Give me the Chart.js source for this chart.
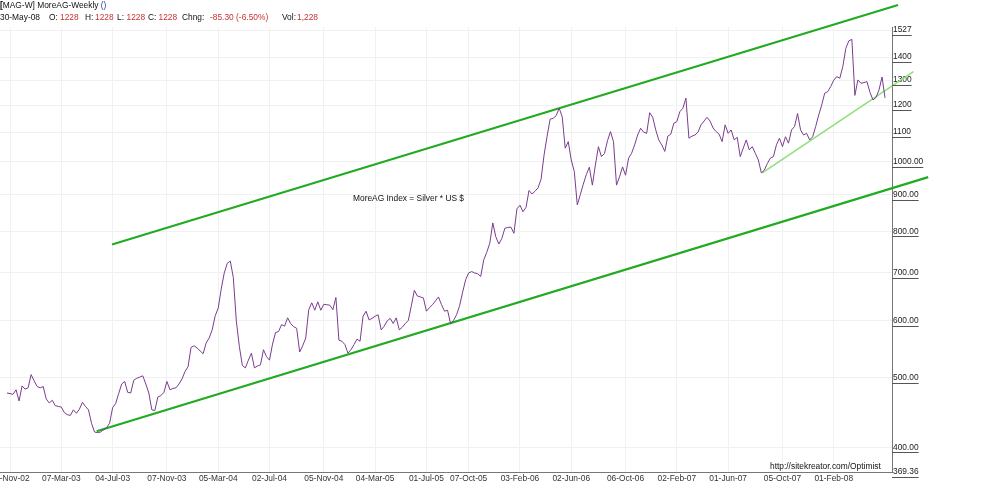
<!DOCTYPE html>
<html>
<head>
<meta charset="utf-8">
<script src="https://cdn.jsdelivr.net/npm/chart.js@4.4.1/dist/chart.umd.min.js"></script>
<style>
  body { margin: 0; background: #fff; }
  #wrap { position: relative; width: 987px; height: 486px; font-family: 'Liberation Sans', Arial, sans-serif; font-size: 8.4px; color: #111; }
  #chart { position: absolute; left: 0; top: 0; }
  .txt { position: absolute; white-space: pre; line-height: 10px; }
  .red { color: #c8312f; }
  .blue { color: #2a3aa8; }
</style>
</head>
<body>
<div id="wrap">
  <canvas id="chart" width="987" height="486"></canvas>
  <div class="txt" style="left:0;top:0"><b>[</b>MAG-W] MoreAG-Weekly <span class="blue">()</span></div>
  <div class="txt" style="left:0;top:11.5px">30-May-08</div>
  <div class="txt" style="left:49px;top:11.5px">O:</div>
  <div class="txt red" style="left:60px;top:11.5px">1228</div>
  <div class="txt" style="left:85px;top:11.5px">H:</div>
  <div class="txt red" style="left:95px;top:11.5px">1228</div>
  <div class="txt" style="left:117px;top:11.5px">L:</div>
  <div class="txt red" style="left:126.5px;top:11.5px">1228</div>
  <div class="txt" style="left:148px;top:11.5px">C:</div>
  <div class="txt red" style="left:158.5px;top:11.5px">1228</div>
  <div class="txt" style="left:182px;top:11.5px">Chng:</div>
  <div class="txt red" style="left:210px;top:11.5px">-85.30 (-6.50%)</div>
  <div class="txt" style="left:282px;top:11.5px">Vol:</div>
  <div class="txt red" style="left:297px;top:11.5px">1,228</div>
  <div class="txt" style="left:353px;top:192.5px">MoreAG Index = Silver * US $</div>
  <div class="txt" style="left:770px;top:460.5px">http://sitekreator.com/Optimist</div>
</div>
<script>
// Weekly closes, one per Friday starting 01-Nov-02, ending 30-May-08
const firstWeek = Date.UTC(2002, 10, 1);
const moreAgValues = [
  476, 475, 474, 481, 464, 487, 482, 484, 505, 495,
  486, 484, 486, 467, 461, 465, 457, 456, 455, 447,
  444, 443, 451, 446, 452, 462, 456, 451, 432, 420,
  419, 420, 423, 426, 432, 454, 460, 475, 490, 494,
  477, 476, 496, 499, 501, 503, 490, 476, 451, 450,
  470, 472, 477, 494, 481, 483, 484, 490, 498, 510,
  518, 551, 554, 550, 545, 540, 559, 568, 583, 610,
  625, 665, 700, 722, 727, 690, 600, 553, 520, 516,
  529, 541, 516, 519, 521, 547, 535, 529, 557, 578,
  580, 593, 590, 606, 595, 589, 586, 543, 554, 568,
  622, 636, 621, 638, 621, 633, 632, 631, 622, 647,
  564, 562, 556, 541, 547, 556, 566, 562, 609, 619,
  602, 605, 609, 612, 583, 590, 600, 605, 595, 606,
  583, 588, 595, 601, 630, 662, 650, 648, 646, 619,
  626, 632, 640, 648, 632, 619, 621, 595, 601, 612,
  630, 658, 685, 700, 703, 700, 698, 692, 730, 748,
  770, 822, 786, 768, 782, 808, 810, 811, 795, 860,
  870, 852, 864, 912, 902, 910, 920, 946, 1023, 1086,
  1147, 1150, 1160, 1188, 1156, 1045, 1067, 1006, 970, 871,
  900, 931, 960, 983, 928, 990, 1050, 1017, 1027, 1070,
  1102, 1067, 928, 953, 984, 958, 1012, 1028, 1056, 1090,
  1114, 1100, 1096, 1171, 1154, 1108, 1073, 1056, 1034, 1086,
  1093, 1132, 1138, 1175, 1188, 1227, 1079, 1086, 1090, 1100,
  1126, 1140, 1154, 1140, 1115, 1102, 1093, 1067, 1126, 1096,
  1108, 1073, 1082, 1017, 1045, 1073, 1039, 1050, 1028, 1006,
  965, 974, 995, 1012, 1017, 1056, 1079, 1050, 1084, 1062,
  1108, 1120, 1168, 1108, 1090, 1096, 1073, 1084, 1120, 1162,
  1200, 1247, 1253, 1274, 1300, 1315, 1308, 1358, 1440, 1475,
  1482, 1238, 1301, 1287, 1290, 1294, 1250, 1220, 1230, 1260,
  1313.3, 1228
];

const xTickLabels = ['08-Nov-02', '07-Mar-03', '04-Jul-03', '07-Nov-03', '05-Mar-04', '02-Jul-04',
  '05-Nov-04', '04-Mar-05', '01-Jul-05', '07-Oct-05', '03-Feb-06', '02-Jun-06', '06-Oct-06',
  '02-Feb-07', '01-Jun-07', '05-Oct-07', '01-Feb-08'];

const yTickValues = [369.36, 400, 500, 600, 700, 800, 900, 1000, 1100, 1200, 1300, 1400, 1527];
const yTickLabels = ['369.36', '400.00', '500.00', '600.00', '700.00', '800.00', '900.00', '1000.00',
  '1100', '1200', '1300', '1400', '1527'];

// hand drawn trend lines: x = week number, y = index value
const upperChannel = [{ x: 34.8, y: 767 }, { x: 295.3, y: 1655 }];
const lowerChannel = [{ x: 29.7, y: 421 }, { x: 305.3, y: 952 }];
const recentSupport = [{ x: 250.3, y: 965 }, { x: 300.4, y: 1336 }];

const MONTHS = ['Jan', 'Feb', 'Mar', 'Apr', 'May', 'Jun', 'Jul', 'Aug', 'Sep', 'Oct', 'Nov', 'Dec'];
function fmtDate(ms) {
  const d = new Date(ms);
  const dd = String(d.getUTCDate()).padStart(2, '0');
  const yy = String(d.getUTCFullYear() % 100).padStart(2, '0');
  return dd + '-' + MONTHS[d.getUTCMonth()] + '-' + yy;
}
const weekLabels = moreAgValues.map((v, i) => fmtDate(firstWeek + i * 7 * 86400000));
const xTickIndex = xTickLabels.map(l => weekLabels.indexOf(l));

const FONT = "'Liberation Sans', Arial, sans-serif";
Chart.defaults.font.family = FONT;
Chart.defaults.font.size = 8.4;

// price labels on the right are underlined
const underlineTicks = {
  id: 'underlineTicks',
  afterDraw(chart) {
    const s = chart.scales.y;
    const ctx = chart.ctx;
    ctx.save();
    ctx.font = '8.4px ' + FONT;
    ctx.strokeStyle = '#555';
    ctx.lineWidth = 1;
    s.ticks.forEach((t, i) => {
      const y = Math.round(s.getPixelForValue(t.value)) + 5.5;
      const w = ctx.measureText(yTickLabels[i]).width;
      ctx.beginPath();
      ctx.moveTo(s.left, y);
      ctx.lineTo(s.left + 1 + w, y);
      ctx.stroke();
    });
    ctx.restore();
  }
};

const trend = (data, color, width) => ({
  data: data, borderColor: color, borderWidth: width,
  pointRadius: 0, tension: 0, clip: false
});

new Chart(document.getElementById('chart'), {
  type: 'line',
  data: {
    datasets: [
      {
        data: moreAgValues.map((v, i) => ({ x: i, y: v })),
        borderColor: '#7a3d8e',
        borderWidth: 1,
        pointRadius: 0,
        tension: 0
      },
      trend(upperChannel, '#22ab22', 2.2),
      trend(lowerChannel, '#22ab22', 2.2),
      trend(recentSupport, '#8fe07c', 1.6)
    ]
  },
  options: {
    responsive: false,
    animation: false,
    devicePixelRatio: 1,
    layout: { padding: { top: 27, left: 0, right: 0, bottom: 0 }, autoPadding: false },
    plugins: { legend: { display: false }, tooltip: { enabled: false } },
    scales: {
      x: {
        type: 'linear',
        min: -2.32,
        max: 293.3,
        afterBuildTicks: s => { s.ticks = xTickIndex.map(v => ({ value: v })); },
        afterFit: s => { s.height = 14; s.paddingLeft = 0; s.paddingRight = 0; },
        ticks: {
          autoSkip: false, maxRotation: 0, minRotation: 0, padding: 2, color: '#333',
          callback: v => weekLabels[v]
        },
        grid: { color: '#f1f1f1', drawTicks: false },
        border: { color: '#777' }
      },
      y: {
        type: 'logarithmic',
        position: 'right',
        min: 369.36,
        max: 1542,
        afterBuildTicks: s => { s.ticks = yTickValues.map(v => ({ value: v })); },
        afterFit: s => { s.width = 95; s.paddingTop = 0; s.paddingBottom = 0; },
        ticks: {
          autoSkip: false, padding: 1, color: '#222',
          callback: (v, i) => yTickLabels[i]
        },
        grid: { color: '#f1f1f1', drawTicks: false },
        border: { color: '#777' }
      }
    }
  },
  plugins: [underlineTicks]
});
</script>
</body>
</html>
